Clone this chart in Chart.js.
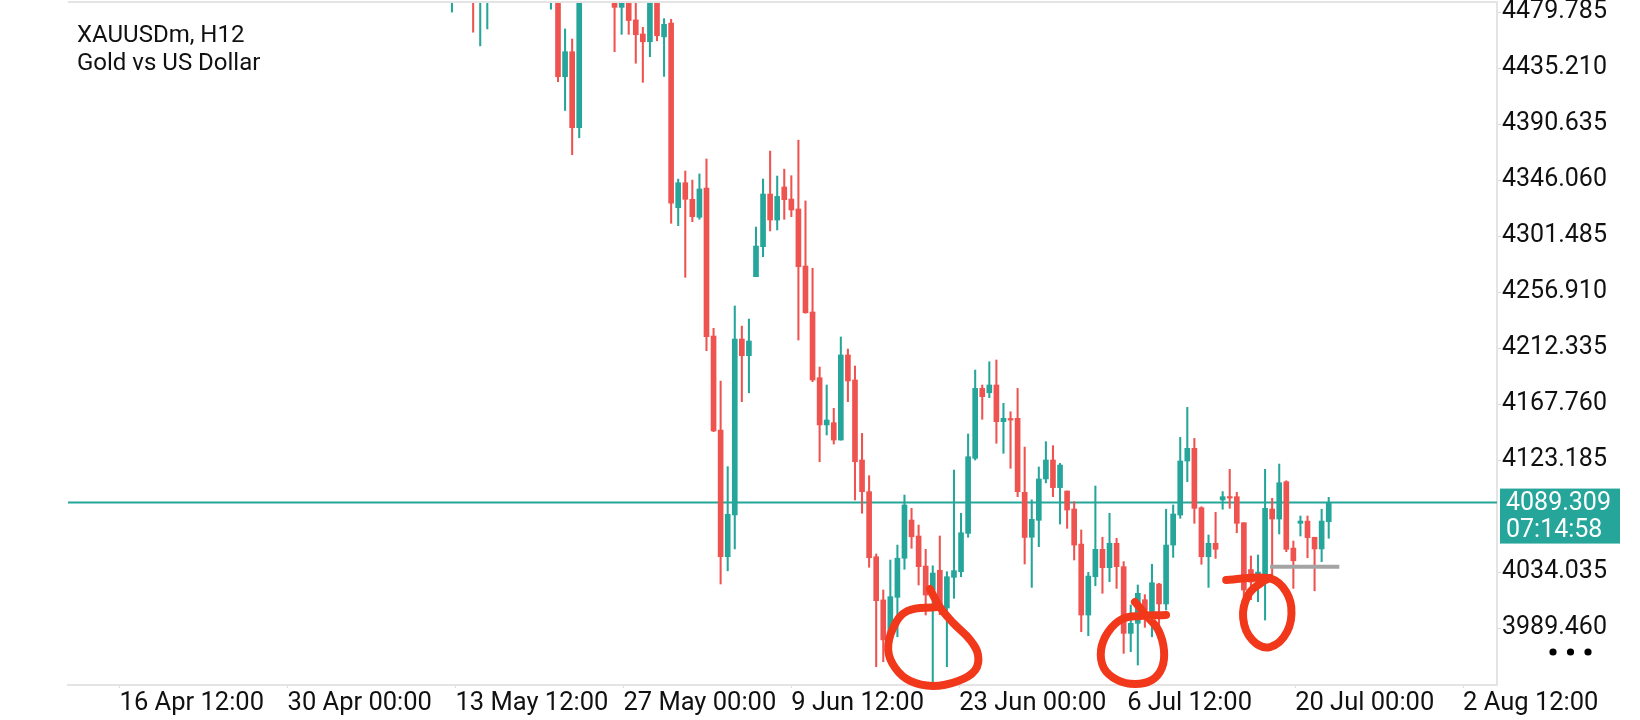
<!DOCTYPE html>
<html><head><meta charset="utf-8">
<script src="https://cdn.jsdelivr.net/npm/chart.js@4.4.1/dist/chart.umd.min.js"></script>
<style>html,body{margin:0;padding:0;background:#fff;overflow:hidden}#wrap{position:relative;width:1640px;height:720px}</style>
</head><body><div id="wrap"><canvas id="c" width="1640" height="720"></canvas></div>
<script>
// ---- data ----
const symbolTitle = 'XAUUSDm, H12';
const symbolName = 'Gold vs US Dollar';
const barIndex = [0,3,4,5,14,15,16,17,18,23,24,25,26,27,28,29,30,
 31,32,33,34,35,36,37,38,39,40,41,42,43,44,45,46,47,48,49,50,51,52,53,54,55,56,57,58,59,60,
 61,62,63,64,65,66,67,68,69,70,71,72,73,74,75,76,77,78,79,80,81,82,83,84,85,86,87,88,89,90,
 91,92,93,94,95,96,97,98,99,100,101,102,103,104,105,106,107,108,109,110,111,112,113,114,115,116,117,118,119,120,121,122,123,124];
const opens = [4495,4512,4494,4500,4492,4500,4428.3,4448.2,4387.7,4505,4483.5,4495,4473.5,4462.3,4456.1,4492,4460,
 4471,4324.0,4343.9,4330.7,4316.4,4339.7,4221.9,4147.1,4046.2,4079.4,4219.5,4206.2,4269.1,4293.0,4334.9,4314.2,4340.5,4330.9,4323.0,4277.6,4241.0,4188.7,4151.1,4152.9,4139.1,4206.8,4186.9,4123.2,4098.0,4046.2,
 4011.8,3982.5,4013.9,4045.0,4075.4,4062.7,4038.8,4019.7,4035.4,4005.4,4029.8,4034.3,4064.8,4124.5,4180.2,4176.7,4182.9,4153.7,4155.8,4156.4,4097.5,4061.7,4075.2,4108.1,4123.2,4101.2,4098.5,4084.2,4056.3,3999.8,
 4030.3,4052.1,4037.5,4056.9,4038.3,3985.2,3993.2,4012,4002.4,4024.5,4008.6,4055.5,4079.4,4122.4,4132.5,4085.2,4046.2,4056.9,4091.4,4093.7,4094.0,4073.3,4036,4028,4031.7,4084.2,4076.2,4105.9,4053.1,4072.8,4074.6,4061.7,4052.4,4074.1];
const highs = [4515,4518,4510,4518,4505,4505,4466.3,4458.3,4520,4512,4500,4500,4492,4467.6,4500,4496,4474.5,
 4474,4346.8,4353.2,4346.0,4350.9,4362.8,4228.0,4186.0,4117.9,4245.8,4229.8,4235.4,4308.6,4346.8,4369.1,4349.2,4354.7,4349.5,4377.8,4329.4,4275.8,4197.2,4182.9,4164.3,4221.1,4211.5,4198.0,4144.4,4110.7,4048.4,
 4019.7,4043.6,4055.5,4095.3,4084.7,4071.4,4052.1,4039.0,4062.7,4034.3,4115.2,4080.8,4143.9,4194.8,4182.9,4201.4,4202.8,4168.3,4161.6,4180.2,4133.5,4091.5,4117.6,4137.8,4134.6,4120.5,4098.5,4090.0,4067.5,4033.8,
 4102.5,4061.7,4080.8,4060.9,4042.3,4007.8,4023.7,4016,4040.2,4025.0,4084.0,4087.4,4141.2,4165.1,4140.4,4086.0,4063.5,4081.6,4098.0,4115.8,4097.5,4073.3,4046.8,4047.6,4115.8,4092.7,4120.0,4106.7,4058.7,4078.6,4078.6,4061.7,4084.0,4093.5];
const lows = [4479.7,4463.7,4452.8,4466.3,4482,4424.3,4401.4,4366.2,4379.7,4448.2,4462,4462,4439,4423.8,4444.2,4456.9,4428.5,
 4311.6,4309.7,4268.6,4312.9,4314.8,4210.2,4145.7,4024.5,4035.0,4052.4,4169.6,4176.7,4269.1,4285.0,4305.5,4306.3,4314.8,4316.9,4218.7,4240.0,4185.5,4121.8,4143.1,4135.9,4139.0,4169.6,4091.4,4080.8,4037.8,3958.7,
 3962.6,3975.9,3982.5,4036.2,4052.9,4023.7,3999.8,3945.4,4000.0,3958.7,4013.1,4030.3,4061.7,4123.2,4155.6,4172.8,4136.5,4128.5,4116.6,4094.0,4040.4,4021.8,4054.2,4105.0,4094.0,4072.2,4068.8,4043.6,3986.5,3983.3,
 4023.1,4017.1,4026.3,4021.0,3969.3,3970.6,3960.0,3990,3982.5,3990.5,4003.8,4045.7,4076.8,4106.0,4072.8,4040.2,4021.8,4044.9,4084.0,4084.7,4065.3,3998,4012,4010.4,3995.8,4029.0,4064.3,4050.2,4021.0,4062.7,4045.4,4019.1,4042.3,4060.9];
const closes = [4510,4495,4505,4512,4500,4428.3,4448.2,4387.7,4510,4483.5,4495,4473,4461.7,4456.1,4492,4460.9,4470,
 4327.6,4343.9,4330.7,4316.9,4338.9,4221.3,4146.3,4046.2,4080.0,4219.5,4206.2,4217.9,4293.5,4334.9,4314.2,4333.0,4330.4,4322.2,4277.1,4240.4,4186.9,4151.1,4155.0,4139.1,4206.8,4186.1,4121.8,4098.0,4045.4,4011.2,
 3980.0,4014.4,4045.0,4087.4,4062.1,4038.3,4015.7,4033.2,4006.4,4030.3,4035.1,4065.3,4125.8,4180.2,4173.6,4182.9,4153.7,4156.4,4155.0,4098.0,4061.5,4076.0,4108.1,4123.2,4101.2,4119.2,4083.4,4055.5,3999.8,4030.8,
 4052.1,4037.5,4056.9,4038.3,3985.2,3993.2,4017.1,4004,4025.5,4008.6,4055.5,4080.2,4122.4,4132.5,4084.7,4046.2,4056.9,4052.1,4094.0,4092.9,4072.8,4019.7,4026,4034,4084.7,4076.2,4105.1,4052.1,4043.0,4074.6,4061.4,4052.4,4074.6,4089.3];
const timeLabels = ['16 Apr 12:00','30 Apr 00:00','13 May 12:00','27 May 00:00','9 Jun 12:00','23 Jun 00:00','6 Jul 12:00','20 Jul 00:00','2 Aug 12:00'];
const timeLabelBars = [-47,-23.25,0.5,24.25,48,71.75,95.5,119.25,143];
const priceTicks = [4479.785,4435.210,4390.635,4346.060,4301.485,4256.910,4212.335,4167.760,4123.185,4034.035,3989.460];
const currentPrice = 4089.309;
const countdown = '07:14:58';
const levelBars = [115.7,125.5];
const levelPrice = 4038.2;
// hand-drawn marks, as [bar, price]
const markA = [[67.6,4020.5],[69.0,4006.2],[70.9,3993.4],[73.3,3979.9],[74.4,3968.0],[74.0,3956.0],[71.6,3947.3],[68.0,3943.3],[64.8,3947.3],[62.7,3957.6],[61.7,3972.0],[62.4,3989.5],[64.4,4003.0],[68.6,4006.2]];
const markB = [[96.6,4010.2],[98.4,3998.2],[99.9,3987.9],[100.7,3971.9],[100.4,3957.6],[99.0,3948.1],[96.6,3944.9],[94.1,3948.1],[92.2,3957.6],[91.8,3971.9],[92.8,3986.3],[94.8,3996.6],[97.3,3999.0],[101.0,3999.8]];
const markC = [[109.5,4027.7],[115.4,4029.3],[117.5,4022.1],[118.7,4006.2],[118.1,3986.3],[115.7,3974.3],[113.2,3979.9],[111.9,3997.4],[112.6,4015.7],[114.6,4026.1],[115.7,4029.3]];
const X_MIN = -54.3, X_MAX = 147.8, Y_MIN = 3944.1, Y_MAX = 4487.75;

// ---- styles ----
const BULL = '#26a69a', BEAR = '#ef5350', INK = '#f2381b', AXIS = '#e4e4e4';
const FONT = 'Roboto';
const colorOf = ctx => closes[ctx.dataIndex] >= opens[ctx.dataIndex] ? BULL : BEAR;

const wickData = barIndex.map((b,i)=>({x:b, y:[lows[i], highs[i]]}));
const bodyData = barIndex.map((b,i)=>({x:b, y:[Math.min(opens[i],closes[i]), Math.max(opens[i],closes[i])]}));
const toPts = arr => arr.map(p=>({x:p[0], y:p[1]}));
const markStyle = {type:'line', borderColor:INK, borderWidth:8, tension:0.4, pointRadius:0, fill:false, clip:false, borderCapStyle:'round', borderJoinStyle:'round', order:0};

const decor = {
  id:'decor',
  beforeDatasetsDraw(chart){
    const {ctx, chartArea:a, scales:{y}} = chart;
    const py = y.getPixelForValue(currentPrice);
    ctx.save(); ctx.strokeStyle = BULL; ctx.lineWidth = 2;
    ctx.beginPath(); ctx.moveTo(a.left, py); ctx.lineTo(a.right, py); ctx.stroke(); ctx.restore();
  },
  afterDraw(chart){
    const {ctx, chartArea:a, scales:{y}} = chart;
    ctx.save();
    // top frame line
    ctx.strokeStyle = AXIS; ctx.lineWidth = 2;
    ctx.beginPath(); ctx.moveTo(a.left, a.top); ctx.lineTo(a.right+1, a.top); ctx.stroke();
    // title
    ctx.fillStyle = '#111'; ctx.font = '24px ' + FONT; ctx.textBaseline = 'alphabetic'; ctx.textAlign = 'left';
    ctx.fillText(symbolTitle, a.left + 9, a.top + 40);
    ctx.fillText(symbolName, a.left + 9, a.top + 68);
    // price box
    const py = y.getPixelForValue(currentPrice);
    ctx.fillStyle = BULL; ctx.fillRect(a.right + 3, py - 14, 120, 55);
    ctx.fillStyle = '#fff'; ctx.textBaseline = 'middle'; ctx.font = '25px ' + FONT;
    ctx.fillText(currentPrice.toFixed(3), a.right + 9, py + 1);
    ctx.fillText(countdown, a.right + 9, py + 28);
    // menu dots
    ctx.fillStyle = '#000';
    [56, 73.5, 91].forEach(dx => { ctx.beginPath(); ctx.arc(a.right + dx, a.bottom - 33, 3.6, 0, Math.PI*2); ctx.fill(); });
    ctx.restore();
  }
};

function draw(){
  new Chart(document.getElementById('c'), {
    type:'bar',
    data:{datasets:[
      Object.assign({label:'mark A', data:toPts(markA)}, markStyle),
      Object.assign({label:'mark B', data:toPts(markB)}, markStyle),
      Object.assign({label:'mark C', data:toPts(markC)}, markStyle),
      {type:'line', label:'level', data:[{x:levelBars[0],y:levelPrice},{x:levelBars[1],y:levelPrice}], borderColor:'#a4a4a4', borderWidth:4, pointRadius:0, fill:false, order:1},
      {label:'body', data:bodyData, backgroundColor:colorOf, barThickness:5, minBarLength:1.5, grouped:false, order:2},
      {label:'wick', data:wickData, backgroundColor:colorOf, barThickness:1.4, grouped:false, order:3}
    ]},
    options:{
      responsive:false, animation:false, events:[],
      layout:{padding:{left:68, top:2, right:0, bottom:0}},
      plugins:{legend:{display:false}, tooltip:{enabled:false}, title:{display:false}},
      scales:{
        x:{type:'linear', min:X_MIN, max:X_MAX, offset:false,
          grid:{drawOnChartArea:false, drawTicks:true, tickLength:3, color:'#dcdcdc', offset:false},
          border:{display:true, color:AXIS, width:2},
          ticks:{autoSkip:false, maxRotation:0, minRotation:0, align:'start', padding:3, color:'#111',
                 font:{family:FONT, size:25.5, lineHeight:1}, callback:(v,i)=>timeLabels[i]},
          afterBuildTicks:s=>{ s.ticks = timeLabelBars.map(v=>({value:v})); },
          afterFit:s=>{ s.height = 35; s.paddingLeft = 0; s.paddingRight = 0; }
        },
        y:{type:'linear', position:'right', min:Y_MIN, max:Y_MAX,
          grid:{drawOnChartArea:false, drawTicks:true, tickLength:4, color:'#d8d8d8'},
          border:{display:true, color:AXIS, width:2},
          ticks:{autoSkip:false, padding:1, color:'#111', font:{family:FONT, size:25}, callback:v=>Number(v).toFixed(3)},
          afterBuildTicks:s=>{ s.ticks = priceTicks.map(v=>({value:v})); },
          afterFit:s=>{ s.width = 143; s.paddingTop = 0; s.paddingBottom = 0; }
        }
      }
    },
    plugins:[decor]
  });
}
if (document.fonts && document.fonts.load) {
  document.fonts.load('25px Roboto').then(draw, draw);
} else { draw(); }
</script>
</body></html>
